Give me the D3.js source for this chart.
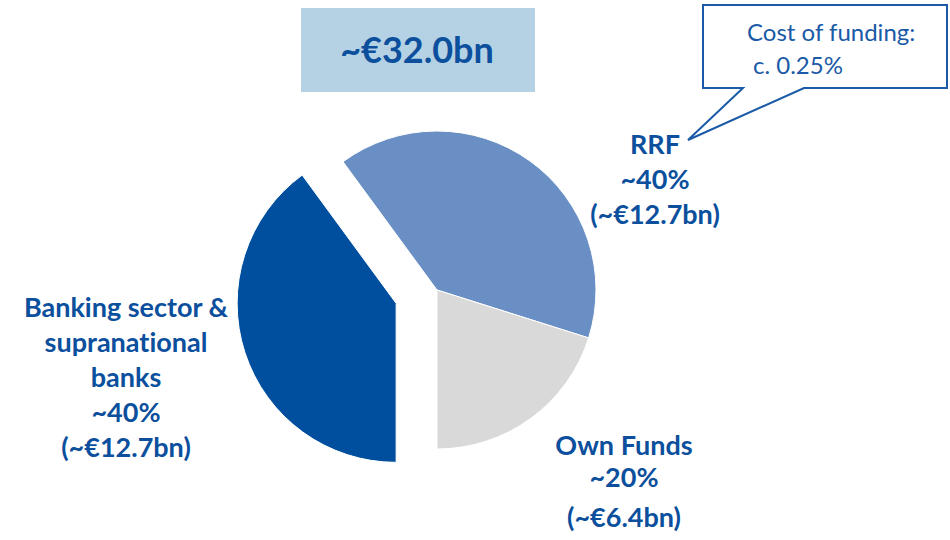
<!DOCTYPE html>
<html>
<head>
<meta charset="utf-8">
<script src="https://cdn.jsdelivr.net/npm/d3@7"></script>
<style>
  html, body { margin: 0; padding: 0; background: #fff; }
  svg { display: block; }
  text { font-variant-ligatures: none; }
</style>
</head>
<body>
<svg id="chart" width="950" height="540"></svg>
<script>
// funding sources, in clockwise order starting from the RRF slice
const sources = ["RRF", "Own Funds", "Banking sector & supranational banks"];
const amounts = [12.7, 6.4, 12.7];           // €bn
const shares = ["~40%", "~20%", "~40%"];
const amountLabels = ["(~€12.7bn)", "(~€6.4bn)", "(~€12.7bn)"];
const labelLines = [["RRF"], ["Own Funds"], ["Banking sector &", "supranational", "banks"]];
const totalLabel = "~€32.0bn";
const calloutLines = ["Cost of funding:", "c. 0.25%"];

const colors = d3.scaleOrdinal()
    .domain(sources)
    .range(["#6a8fc5", "#d9d9d9", "#004f9e"]);

const svg = d3.select("#chart");
const cx = 437, cy = 290, radius = 159;
const textColor = "#0b4f9d";
const font = "Lato, 'Open Sans', sans-serif";

// grey slice ends straight down, as in the original
const total = d3.sum(amounts);
const start = Math.PI - (amounts[0] + amounts[1]) / total * 2 * Math.PI;

const pie = d3.pie()
    .sort(null)
    .value(d => d.amount)
    .startAngle(start)
    .endAngle(start + 2 * Math.PI);

const arcs = pie(sources.map((s, i) => ({name: s, amount: amounts[i]})));
const arc = d3.arc().innerRadius(0).outerRadius(radius);

const explode = 43;
const g = svg.append("g").attr("transform", `translate(${cx},${cy})`);

g.selectAll("path")
    .data(arcs)
    .join("path")
    .attr("d", arc)
    .attr("fill", d => colors(d.data.name))
    .attr("stroke", "#fff")
    .attr("stroke-width", 1)
    .attr("transform", (d, i) => {
        if (i !== 2) return null;
        const a = (d.startAngle + d.endAngle) / 2;
        return `translate(${explode * Math.sin(a)},${-explode * Math.cos(a)})`;
    });

// total box
svg.append("rect")
    .attr("x", 301).attr("y", 8)
    .attr("width", 234).attr("height", 84)
    .attr("fill", "#b4d2e4");

svg.append("text")
    .attr("x", 417).attr("y", 63)
    .attr("text-anchor", "middle")
    .attr("font-family", font)
    .attr("font-weight", "bold")
    .attr("font-size", 36)
    .attr("fill", textColor)
    .text(totalLabel);

// callout
const callout = [[703, 5], [947, 5], [947, 88], [804, 88], [688, 140], [743, 88], [703, 88]];
svg.append("path")
    .attr("d", d3.line()(callout) + "Z")
    .attr("fill", "#fff")
    .attr("stroke", "#1a5aa6")
    .attr("stroke-width", 2);

svg.append("g")
    .selectAll("text")
    .data(calloutLines)
    .join("text")
    .attr("x", (d, i) => i === 0 ? 747 : 753)
    .attr("y", (d, i) => 41 + i * 33)
    .attr("font-family", font)
    .attr("font-size", 24)
    .attr("fill", "#1a5aa6")
    .text(d => d);

// slice labels
const labelPos = [
    {x: 655, y: 154},
    {x: 624, y: 455},
    {x: 126, y: 317}
];

const labels = svg.append("g")
    .attr("font-family", font)
    .attr("font-weight", "bold")
    .attr("font-size", 27)
    .attr("fill", textColor)
    .attr("text-anchor", "middle");

sources.forEach((s, i) => {
    const lines = labelLines[i].concat([shares[i], amountLabels[i]]);
    const step = i === 1 ? [0, 32, 72] : null;
    labels.selectAll(null)
        .data(lines)
        .join("text")
        .attr("x", labelPos[i].x)
        .attr("y", (d, j) => labelPos[i].y + (step ? step[j] : j * 35))
        .text(d => d);
});
</script>
</body>
</html>
